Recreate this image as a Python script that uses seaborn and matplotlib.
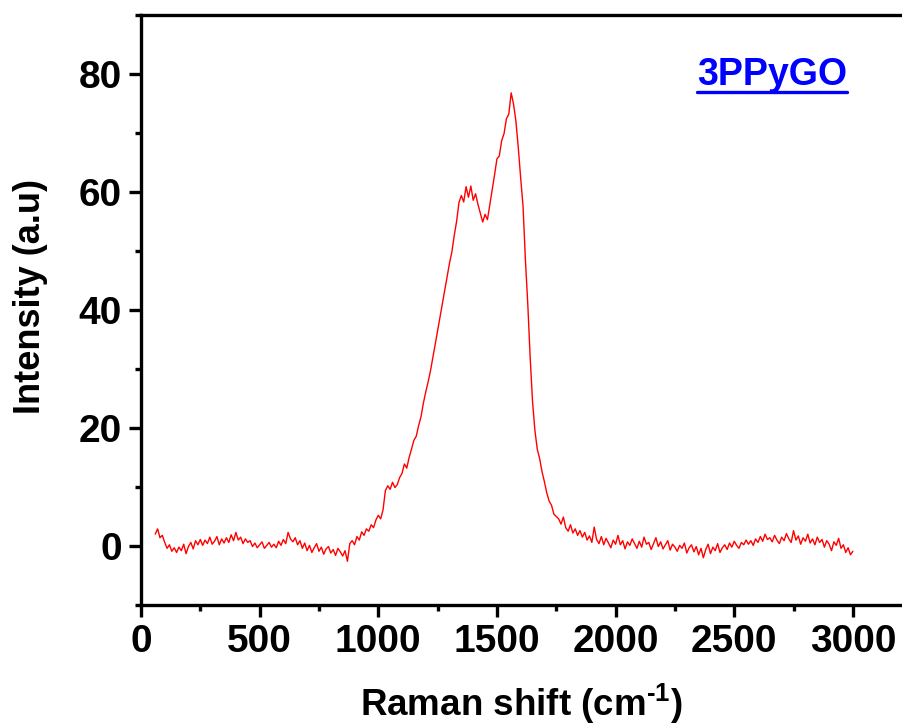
import numpy as np
import pandas as pd
import matplotlib
matplotlib.use("Agg")
import matplotlib.pyplot as plt
from matplotlib.ticker import MultipleLocator
from matplotlib.lines import Line2D
import seaborn as sns

# Raman shift grid (cm^-1) and intensity
shift = np.arange(60, 3001, 10)
intensity = [
    2.0, 2.9, 1.4, 1.8, 0.6, -0.4, 0.2, -0.9, -0.3, -1.1,
    -0.2, -0.8, 0.3, -1.3, -0.1, 0.6, -0.5, 0.9, 0.2, 1.1,
    0.1, 1.0, 0.4, 1.5, 0.3, 0.8, 1.6, 0.2, 1.2, 0.5,
    1.4, 0.6, 1.9, 0.9, 2.3, 1.0, 1.5, 0.4, 1.2, 0.6,
    0.9, -0.1, 0.5, -0.3, 0.2, 0.7, -0.4, 0.1, 0.6, -0.2,
    0.3, -0.3, 0.8, 0.1, 1.1, 0.4, 2.3, 1.2, 0.7, 1.4,
    0.2, 0.9, -0.4, 0.5, -0.8, 0.1, -1.1, -0.3, 0.4, -0.9,
    -0.2, -1.4, -0.5, -0.1, -1.2, -0.6, -1.6, -0.4, -1.0, -1.7,
    -0.8, -2.6, 0.4, 0.9, 0.2, 1.6, 1.0, 2.4, 1.8, 2.9,
    2.5, 3.6, 3.1, 4.4, 5.2, 4.6, 6.1, 9.4, 10.2, 9.6,
    10.8, 9.9, 10.4, 11.6, 12.3, 13.9, 13.2, 15.0, 16.4, 17.9,
    18.6, 20.4, 21.9, 24.2, 26.1, 27.8, 29.7, 31.9, 34.2, 36.5,
    38.9, 41.2, 43.4, 45.6, 47.9, 49.8, 52.6, 55.0, 58.2, 59.4,
    58.3, 60.9, 59.1, 61.0, 58.6, 59.7, 57.9, 56.4, 54.9, 56.2,
    55.3, 57.8, 60.2, 62.9, 65.6, 66.1, 68.7, 69.9, 72.4, 73.2,
    76.8, 74.9, 72.0, 67.5, 62.4, 57.6, 48.5, 41.0, 32.0, 24.5,
    19.6, 16.4, 14.8, 12.6, 10.9, 9.0, 7.6, 6.9, 5.4, 5.0,
    4.6, 3.7, 4.9, 3.1, 2.5, 3.6, 2.2, 2.9, 1.8, 2.6,
    1.5, 2.3, 1.0, 1.7, 0.6, 3.2, 1.1, 0.4, 1.6, 0.2,
    1.3, 0.5, -0.3, 1.0, 0.3, 1.8, 0.2, 0.9, -0.5, 0.7,
    0.1, 1.2, 0.4, -0.4, 0.8, -0.2, 1.5, 0.3, 0.6, -0.6,
    0.4, 1.4, -0.1, 0.7, -0.5, 0.2, 0.9, -0.7, 0.3, -0.2,
    -0.9, 0.1, -0.4, 0.5, -1.2, -0.3, 0.2, -1.0, -0.1, -1.5,
    -0.4, -2.0, -0.6, 0.3, -1.3, -0.2, -0.8, 0.4, -1.1, -0.3,
    0.2, -0.6, 0.5, -0.2, 0.8, 0.1, -0.4, 0.6, 0.2, 1.0,
    0.3, 0.9, 0.1, 1.2, 0.6, 1.6, 0.8, 2.0, 1.1, 1.4,
    0.7, 1.8, 1.0, 0.4, 1.5, 0.9, 2.1, 1.2, 0.6, 2.6,
    1.0, 1.7, 0.3, 1.4, 0.8, 2.0, 0.5, 1.2, 0.2, 1.5,
    0.6, 1.1, -0.2, 0.9, 0.3, -0.8, 0.7, 0.1, 1.3, -0.4,
    0.2, -1.1, -0.3, -1.5, -0.9,
]
x_ticks = [0, 500, 1000, 1500, 2000, 2500, 3000]
y_ticks = [0, 20, 40, 60, 80]
sample_label = "3PPyGO"

assert len(shift) == len(intensity)
df = pd.DataFrame({"shift": shift, "intensity": intensity})

sns.set_style("ticks")
plt.rcParams["font.family"] = ["Liberation Sans", "DejaVu Sans"]
plt.rcParams["font.weight"] = "bold"
plt.rcParams["text.color"] = "black"
plt.rcParams["axes.labelcolor"] = "black"
plt.rcParams["xtick.color"] = "black"
plt.rcParams["ytick.color"] = "black"
plt.rcParams["mathtext.fontset"] = "custom"
plt.rcParams["mathtext.rm"] = "Liberation Sans:bold"
plt.rcParams["mathtext.bf"] = "Liberation Sans:bold"
plt.rcParams["mathtext.default"] = "bf"

fig = plt.figure(figsize=(9.02, 7.26), dpi=100)
ax = fig.add_axes([0.1563, 0.1667, 0.8437, 0.8127])

sns.lineplot(data=df, x="shift", y="intensity", color="#ff0000",
             linewidth=1.0, errorbar=None, ax=ax)

ax.set_xlim(0, 3207)
ax.set_ylim(-10, 90)
ax.set_xticks(x_ticks)
ax.set_yticks(y_ticks)
ax.xaxis.set_minor_locator(MultipleLocator(250))
ax.yaxis.set_minor_locator(MultipleLocator(10))

for side in ["left", "bottom", "top"]:
    ax.spines[side].set_linewidth(2.4)
    ax.spines[side].set_color("black")
ax.spines["right"].set_visible(False)

ax.tick_params(axis="both", which="major", direction="out", length=8.5,
               width=2.4, labelsize=28, pad=5, color="black",
               labelcolor="black")
ax.tick_params(axis="both", which="minor", direction="out", length=4.5,
               width=2.4, color="black")
ax.tick_params(top=False, right=False, which="both")
for lab in ax.get_xticklabels() + ax.get_yticklabels():
    lab.set_fontweight("bold")

ax.set_xlabel(r"Raman shift (cm$^{\text{-1}}$)", fontsize=26.5,
              fontweight="bold", labelpad=16, color="black")
ax.set_ylabel("Intensity (a.u)", fontsize=26, fontweight="bold",
              color="black")
ax.yaxis.set_label_coords(-0.122, 0.522)

txt = ax.text(0.829, 0.881, sample_label, transform=ax.transAxes,
              fontsize=27, fontweight="bold", color="#0000ff",
              ha="center", va="baseline")

fig.canvas.draw()
bb = txt.get_window_extent(renderer=fig.canvas.get_renderer())
inv = fig.transFigure.inverted()
(x0, y0), (x1, y1) = inv.transform([(bb.x0, bb.y0), (bb.x1, bb.y0)])
uy = y0 + 0.001
fig.add_artist(Line2D([x0, x1], [uy, uy], transform=fig.transFigure,
                      color="#0000ff", linewidth=2.4))

fig.savefig("out.png", dpi=100)
